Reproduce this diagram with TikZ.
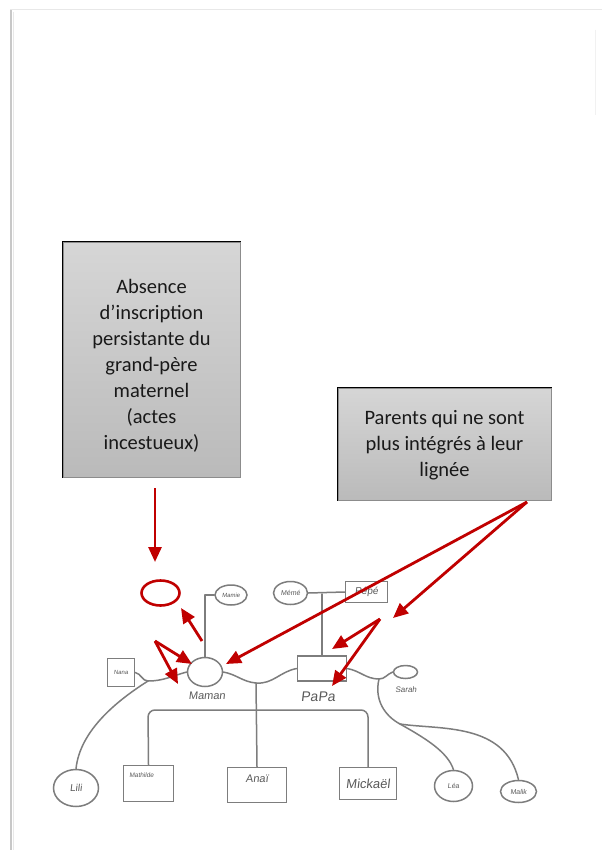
\documentclass[tikz,border=0pt]{standalone}
\usepackage{fontspec}
\setmainfont{Carlito}
\newfontfamily\handfont[FakeSlant=0.12]{Liberation Sans}
\usetikzlibrary{arrows.meta,shapes.geometric,shadows}
\definecolor{myred}{RGB}{192,0,0}
\definecolor{gen}{RGB}{125,125,125}
\definecolor{handc}{RGB}{90,90,90}
\definecolor{boxtop}{RGB}{214,214,214}
\definecolor{boxbot}{RGB}{186,186,186}
\definecolor{boxedge}{RGB}{140,140,140}
\definecolor{pageedge}{RGB}{200,200,200}
\definecolor{pagetop}{RGB}{232,232,232}
\definecolor{txt}{RGB}{25,25,25}
\begin{document}
\begin{tikzpicture}[x=1pt,y=-1pt,
  genline/.style={draw=gen, line width=1.5pt, line cap=round, line join=round},
  genell/.style={ellipse, draw=gen, line width=1.5pt, inner sep=0pt, text=handc},
  genbox/.style={rectangle, draw=gen, line width=1.5pt, inner sep=0pt, text=handc},
  hs/.style={font=\handfont\fontsize{#1}{#1}\selectfont, text=handc},
  redarrow/.style={draw=myred, line width=2.8pt, -{Triangle[length=15pt,width=13pt]}},
  notebox/.style={rectangle, draw=boxedge, line width=1pt, top color=boxtop, bottom color=boxbot,
     drop shadow={shadow xshift=1.2pt, shadow yshift=-1.2pt, opacity=0.25}},
  notetext/.style={align=center, text=txt, font=\fontsize{20.5}{26}\selectfont}
]
\useasboundingbox (0,0) rectangle (602,850);
\fill[white] (0,0) rectangle (602,850);

% page frame
\draw[pageedge, line width=2pt] (11,10) -- (11,850);
\draw[pagetop, line width=1pt] (13,12) -- (13,850);
\draw[pagetop, line width=1pt] (10,10) -- (602,10);
\draw[pagetop!60, line width=1pt] (595,30) -- (595,115);

% note boxes
\node[notebox, minimum width=177pt, minimum height=235pt, inner sep=0pt] (box1) at (151.5,359.5) {};
\draw[black, line width=1.5pt] (box1.south west) -- (box1.north west) -- (box1.north east);
\node[notetext] (t1) at (151.5,366) {Absence\\d’inscription\\persistante du\\grand-père\\maternel\\(actes\\incestueux)};

\node[notebox, minimum width=213pt, minimum height=112pt, inner sep=0pt] (box2) at (444.5,444) {};
\draw[black, line width=1.5pt] (box2.south west) -- (box2.north west) -- (box2.north east);
\node[notetext] (t2) at (444.5,445) {Parents qui ne sont\\plus intégrés à leur\\lignée};

% genogram nodes
\node[genell, minimum width=32pt, minimum height=20pt, hs=6] (mamie) at (231,595) {Mamie};
\node[genell, minimum width=34pt, minimum height=23pt, hs=7] (meme) at (290.5,593) {Mémé};
\node[genbox, minimum width=42pt, minimum height=21pt, hs=10] (pepe) at (366.5,592) {Pépé};
\node[genbox, minimum width=27pt, minimum height=28pt, hs=6] (nana) at (121,672.5) {Nana};
\node[genell, minimum width=35pt, minimum height=29pt] (maman) at (205,672) {};
\node[hs=11, anchor=center] (mamant) at (207,696) {Maman};
\node[genbox, minimum width=49pt, minimum height=25pt] (papa) at (322,668.5) {};
\node[hs=14] (papat) at (318,697) {PaPa};
\node[genell, minimum width=24pt, minimum height=13pt] (sarah) at (405.5,672) {};
\node[hs=8] (saraht) at (406,690) {Sarah};
\node[ellipse, draw=myred, line width=2.6pt, minimum width=38pt, minimum height=25pt, inner sep=0pt] (redell) at (160.5,593) {};

\node[genell, minimum width=45pt, minimum height=37pt, hs=10] (lili) at (76,788) {Lili};
\node[genbox, minimum width=50pt, minimum height=36pt] (mathilde) at (148.5,783.5) {};
\node[hs=6.5, anchor=north west] (mathildet) at ([xshift=3pt,yshift=-4pt]mathilde.north west) {Mathilde};
\node[genbox, minimum width=59pt, minimum height=35pt] (anai) at (257,785) {};
\node[hs=11] (anait) at (257,779) {Anaï};
\node[genbox, minimum width=57pt, minimum height=32pt, hs=13] (mickael) at (368,783.5) {Mickaël};
\node[genell, minimum width=38pt, minimum height=31pt, hs=7] (lea) at (453.5,786) {Léa};
\node[genell, minimum width=36pt, minimum height=22pt, hs=7] (malik) at (518.5,791.5) {Malik};

% genogram connectors
\coordinate (ja) at (148,681);
\coordinate (jb) at (256,683);
\coordinate (jc) at (379,679);
\coordinate (jd) at (400,724);
\coordinate (cpat) at (322,594);
\coordinate (sbL) at (148,710);

\draw[genline] (maman.north) |- (mamie.west);
\draw[genline] (meme.east) -- (pepe.west);
\draw[genline] (cpat) -- (papa.north);
\draw[genline] (nana.east) to[out=-10,in=180] (ja) to[out=0,in=195] (maman.west);
\draw[genline] (ja) .. controls (118,700) and (80,730) .. (lili.north);
\draw[genline] (maman.east) to[out=-10,in=175] (jb) to[out=-5,in=190] (papa.west);
\draw[genline] (jb) -- (anai.north);
\draw[genline, rounded corners=7pt] (mathilde.north) -- (sbL) -| (mickael.north);
\draw[genline] (papa.east) to[out=-10,in=180] (jc) to[out=0,in=200] (sarah.west);
\draw[genline] (jc) .. controls (374,700) and (385,716) .. (jd);
\draw[genline] (jd) .. controls (425,738) and (448,752) .. (lea.north);
\draw[genline] (jd) .. controls (440,730) and (505,722) .. (malik.north);

% red arrows
\coordinate (a1s) at (155,488); \coordinate (a1e) at (155,562);
\coordinate (a2s) at (202,641); \coordinate (a2e) at (181,608);
\coordinate (f1) at (155,641); \coordinate (a3e) at (192,664); \coordinate (a4e) at (178,684);
\coordinate (p0) at (527,502);
\coordinate (a5e) at (226,664); \coordinate (a6e) at (393,618);
\coordinate (f2) at (380,619); \coordinate (a7e) at (332,649); \coordinate (a8e) at (332,686);

\draw[redarrow] (a1s) -- (a1e);
\draw[redarrow] (a2s) -- (a2e);
\draw[redarrow] (f1) -- (a3e);
\draw[redarrow] (f1) -- (a4e);
\draw[redarrow] (p0) -- (a5e);
\draw[redarrow] (p0) -- (a6e);
\draw[redarrow] (f2) -- (a7e);
\draw[redarrow] (f2) -- (a8e);
\end{tikzpicture}
\end{document}
